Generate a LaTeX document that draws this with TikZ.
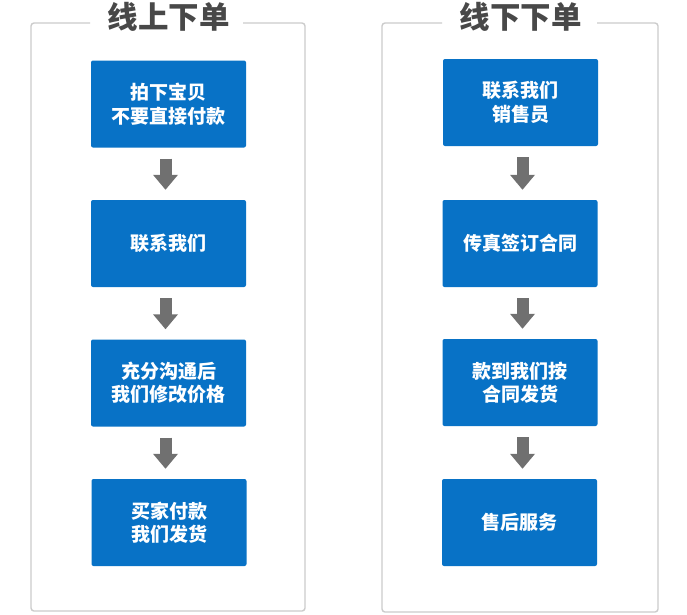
\documentclass[tikz,border=0pt]{standalone}
\usepackage{fontspec}
\newfontfamily\cjk{Noto Sans CJK SC}
\usetikzlibrary{arrows.meta}
\definecolor{boxblue}{RGB}{8,114,198}
\definecolor{arrowgray}{RGB}{112,112,112}
\definecolor{framegray}{RGB}{204,204,204}
\definecolor{titlegray}{RGB}{72,72,72}
\begin{document}
\begin{tikzpicture}[x=1pt,y=-1pt,
  stepbox/.style={fill=boxblue,rounded corners=2pt,minimum width=155pt,minimum height=87pt,
    inner sep=0pt,text=white,align=center,font=\cjk\bfseries\fontsize{19}{23.5}\selectfont},
  flowarrow/.style={draw=arrowgray,line width=12pt,-{Triangle[width=24pt,length=15pt]},
    shorten <=11pt,shorten >=10pt},
  titletext/.style={text=titlegray,font=\cjk\bfseries\fontsize{30.5}{34}\selectfont,inner sep=0pt},
  frameline/.style={draw=framegray,line width=1.4pt,rounded corners=3pt}]
\useasboundingbox (0,0) rectangle (687,614);
\fill[white] (0,0) rectangle (687,614);
% frames
\draw[frameline] (90,23) -- (31,23) -- (31,611) -- (305,611) -- (305,23) -- (243,23);
\draw[frameline] (442,23) -- (382,23) -- (382,612) -- (658,612) -- (658,23) -- (597,23);
% titles
\node[titletext] (t1) at (168.5,17) {线上下单};
\node[titletext] (t2) at (520.5,17) {线下下单};
% left column
\node[stepbox] (l1) at (168.5,104) {拍下宝贝\\不要直接付款};
\node[stepbox] (l2) at (168.5,243.5) {联系我们};
\node[stepbox] (l3) at (168.5,383) {充分沟通后\\我们修改价格};
\node[stepbox] (l4) at (169,522.5) {买家付款\\我们发货};
% right column
\node[stepbox] (r1) at (520.5,102.5) {联系我们\\销售员};
\node[stepbox] (r2) at (520,243.5) {传真签订合同};
\node[stepbox] (r3) at (520,382.5) {款到我们按\\合同发货};
\node[stepbox] (r4) at (519.5,522.5) {售后服务};
% arrows
\draw[flowarrow] ([xshift=-3pt]l1.south) -- ([xshift=-3pt]l2.north);
\draw[flowarrow] ([xshift=-3pt]l2.south) -- ([xshift=-3pt]l3.north);
\draw[flowarrow] ([xshift=-3pt]l3.south) -- ([xshift=-3.5pt]l4.north);
\draw[flowarrow] ([xshift=2.5pt]r1.south -| r2.north) -- ([xshift=2.5pt]r2.north);
\draw[flowarrow] ([xshift=2.5pt]r2.south) -- ([xshift=2.5pt]r3.north);
\draw[flowarrow] ([xshift=2.5pt]r3.south -| r3.north) -- ([xshift=3pt]r4.north);
\end{tikzpicture}
\end{document}
